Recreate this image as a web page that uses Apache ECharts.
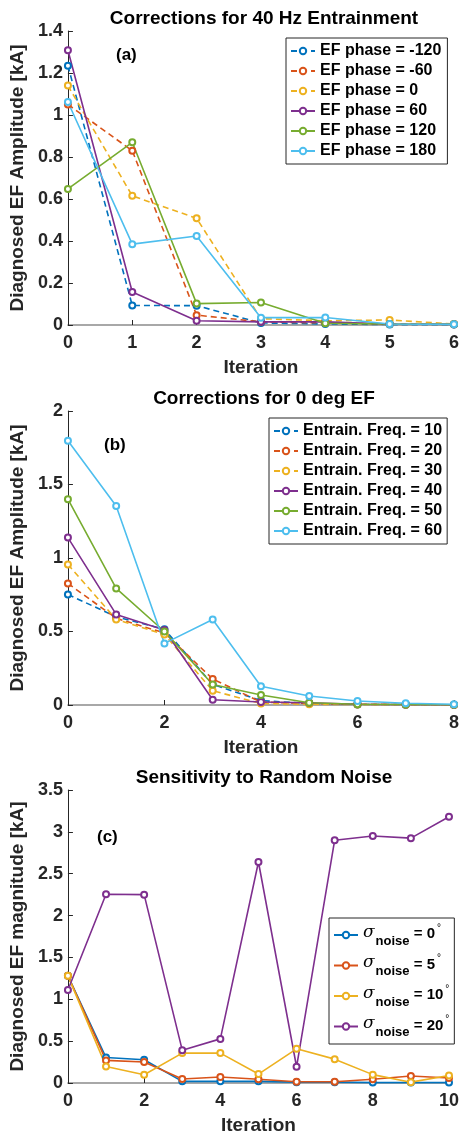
<!DOCTYPE html>
<html>
<head>
<meta charset="utf-8">
<script src="https://cdn.jsdelivr.net/npm/echarts@6/dist/echarts.min.js"></script>
<style>
  html, body {margin:0; padding:0; background:#fff;}
  #chart {width:462px; height:1136px;}
</style>
</head>
<body>
<div id="chart"></div>
<script>
// colors (matlab default order)
const colors = ['#0072BD', '#D95319', '#EDB120', '#7E2F8E', '#77AC30', '#4DBEEE'];

// (a) 40 Hz entrainment, iterations 0..6
const iterA = [0, 1, 2, 3, 4, 5, 6];
const namesA = ['EF phase = -120', 'EF phase = -60', 'EF phase = 0', 'EF phase = 60', 'EF phase = 120', 'EF phase = 180'];
const phaseM120 = [1.235, 0.093, 0.092, 0.010, 0.005, 0.002, 0.002];
const phaseM60 = [1.050, 0.830, 0.047, 0.015, 0.010, 0.005, 0.003];
const phase0 = [1.140, 0.615, 0.508, 0.030, 0.020, 0.024, 0.005];
const phase60 = [1.308, 0.157, 0.020, 0.015, 0.015, 0.005, 0.003];
const phase120 = [0.648, 0.870, 0.102, 0.107, 0.008, 0.005, 0.003];
const phase180 = [1.062, 0.385, 0.424, 0.035, 0.036, 0.005, 0.003];

// (b) 0 deg EF, iterations 0..8
const iterB = [0, 1, 2, 3, 4, 5, 6, 7, 8];
const namesB = ['Entrain. Freq. = 10', 'Entrain. Freq. = 20', 'Entrain. Freq. = 30', 'Entrain. Freq. = 40', 'Entrain. Freq. = 50', 'Entrain. Freq. = 60'];
const freq10 = [0.752, 0.600, 0.515, 0.140, 0.030, 0.010, 0.004, 0.002, 0.001];
const freq20 = [0.827, 0.590, 0.490, 0.177, 0.020, 0.010, 0.005, 0.003, 0.001];
const freq30 = [0.956, 0.582, 0.480, 0.097, 0.010, 0.005, 0.003, 0.002, 0.001];
const freq40 = [1.139, 0.616, 0.510, 0.036, 0.020, 0.015, 0.005, 0.003, 0.002];
const freq50 = [1.400, 0.793, 0.500, 0.140, 0.068, 0.015, 0.005, 0.003, 0.002];
const freq60 = [1.798, 1.354, 0.419, 0.582, 0.127, 0.061, 0.027, 0.012, 0.005];

// (c) random noise, iterations 0..10
const iterC = [0, 1, 2, 3, 4, 5, 6, 7, 8, 9, 10];
const namesC = ['noise0', 'noise5', 'noise10', 'noise20'];
const sigmaC = ['0', '5', '10', '20'];
const noise0 = [1.280, 0.305, 0.277, 0.020, 0.020, 0.020, 0.010, 0.010, 0.005, 0.005, 0.005];
const noise5 = [1.280, 0.270, 0.250, 0.048, 0.071, 0.045, 0.015, 0.015, 0.045, 0.083, 0.060];
const noise10 = [1.280, 0.198, 0.099, 0.357, 0.357, 0.107, 0.408, 0.285, 0.100, 0.010, 0.090];
const noise20 = [1.110, 2.255, 2.250, 0.392, 0.527, 2.640, 0.194, 2.900, 2.950, 2.925, 3.180];

const FONT = 'Liberation Sans, Arial, sans-serif';

function pairs(xs, ys) {
  return xs.map((x, i) => [x, ys[i]]);
}

function mkSeries(names, xs, ysList, dashedCount, gi) {
  return ysList.map((ys, i) => ({
    type: 'line',
    name: names[i],
    xAxisIndex: gi,
    yAxisIndex: gi,
    data: pairs(xs, ys),
    symbol: 'emptyCircle',
    symbolSize: 6,
    showSymbol: true,
    color: colors[i],
    lineStyle: {width: 1.6, type: i < dashedCount ? [6, 4] : 'solid', color: colors[i]},
    itemStyle: {color: colors[i], borderWidth: 1.3},
    emphasis: {disabled: true},
    animation: false
  }));
}

const tops = [31, 411, 790];
const grids = tops.map(t => ({left: 65, right: 7, top: t, height: 294}));

const xMax = [6, 8, 10];
const xInt = [1, 2, 2];
const yMax = [1.4, 2, 3.5];
const yInt = [0.2, 0.5, 0.5];
const yNames = ['Diagnosed EF Amplitude [kA]', 'Diagnosed EF Amplitude [kA]', 'Diagnosed EF magnitude [kA]'];

const xAxes = [0, 1, 2].map(i => ({
  type: 'value', gridIndex: i, min: 0, max: xMax[i], interval: xInt[i],
  name: 'Iteration', nameLocation: 'middle', nameGap: 33,
  nameTextStyle: {fontFamily: FONT, fontWeight: 'bold', fontSize: 19, color: '#262626'},
  axisLine: {show: true, lineStyle: {color: '#8c8c8c', width: 1.5}},
  axisTick: {show: true, inside: true, length: 5, lineStyle: {color: '#262626'}},
  axisLabel: {fontFamily: FONT, fontWeight: 'bold', fontSize: 18, color: '#262626', margin: 9},
  splitLine: {show: false}
}));

const yAxes = [0, 1, 2].map(i => ({
  type: 'value', gridIndex: i, min: 0, max: yMax[i], interval: yInt[i],
  name: yNames[i], nameLocation: 'middle', nameGap: 28,
  nameTextStyle: {fontFamily: FONT, fontWeight: 'bold', fontSize: 19, color: '#262626'},
  axisLine: {show: true, lineStyle: {color: '#262626', width: 1}},
  axisTick: {show: true, inside: true, length: 5, lineStyle: {color: '#262626'}},
  axisLabel: {fontFamily: FONT, fontWeight: 'bold', fontSize: 18, color: '#262626', margin: 5},
  splitLine: {show: false}
}));

const titleStyle = {fontFamily: FONT, fontWeight: 'bold', fontSize: 19, color: '#000'};
const labelStyle = {fontFamily: FONT, fontWeight: 'bold', fontSize: 17, color: '#000'};
const titles = [
  {text: 'Corrections for 40 Hz Entrainment', left: 259, top: 4, textAlign: 'center', textStyle: titleStyle},
  {text: 'Corrections for 0 deg EF', left: 259, top: 384, textAlign: 'center', textStyle: titleStyle},
  {text: 'Sensitivity to Random Noise', left: 259, top: 763, textAlign: 'center', textStyle: titleStyle},
  {text: '(a)', left: 111, top: 42, textStyle: labelStyle},
  {text: '(b)', left: 99, top: 432, textStyle: labelStyle},
  {text: '(c)', left: 92, top: 824, textStyle: labelStyle}
];

const legendText = {fontFamily: FONT, fontWeight: 'bold', fontSize: 16, color: '#000'};
const legends = [
  {
    data: namesA, orient: 'vertical', left: 286, top: 38,
    itemWidth: 24, itemHeight: 8, itemGap: 4, padding: [5, 6, 5, 4],
    borderColor: '#262626', borderWidth: 1, backgroundColor: '#fff',
    textStyle: legendText, selectedMode: false
  },
  {
    data: namesB, orient: 'vertical', left: 269, top: 418,
    itemWidth: 24, itemHeight: 8, itemGap: 4, padding: [5, 5, 5, 4],
    borderColor: '#262626', borderWidth: 1, backgroundColor: '#fff',
    textStyle: legendText, selectedMode: false
  },
  {
    data: namesC, orient: 'vertical', left: 329, top: 918,
    itemWidth: 24, itemHeight: 8, itemGap: 6, padding: [5, 5, 5, 4],
    borderColor: '#262626', borderWidth: 1, backgroundColor: '#fff',
    selectedMode: false,
    formatter: name => '{s|σ}{sub|noise}{t| = ' + sigmaC[namesC.indexOf(name)] + '}{sup|°}',
    textStyle: {
      fontFamily: FONT, color: '#000',
      rich: {
        s: {fontFamily: 'DejaVu Serif', fontStyle: 'italic', fontSize: 17, color: '#000', padding: [0, 1, 5, 0]},
        sub: {fontFamily: FONT, fontWeight: 'bold', fontSize: 13, color: '#000', padding: [12, 0, 0, 0]},
        t: {fontFamily: FONT, fontWeight: 'bold', fontSize: 15, color: '#000', padding: [0, 0, 2, 0]},
        sup: {fontFamily: FONT, fontSize: 10, color: '#000', padding: [0, 0, 14, 2]}
      }
    }
  }
];

const series = []
  .concat(mkSeries(namesA, iterA, [phaseM120, phaseM60, phase0, phase60, phase120, phase180], 3, 0))
  .concat(mkSeries(namesB, iterB, [freq10, freq20, freq30, freq40, freq50, freq60], 3, 1))
  .concat(mkSeries(namesC, iterC, [noise0, noise5, noise10, noise20], 0, 2));

const chart = echarts.init(document.getElementById('chart'), null, {renderer: 'canvas'});
chart.setOption({
  backgroundColor: '#fff',
  animation: false,
  title: titles,
  legend: legends,
  grid: grids,
  xAxis: xAxes,
  yAxis: yAxes,
  series: series
});
</script>
</body>
</html>
